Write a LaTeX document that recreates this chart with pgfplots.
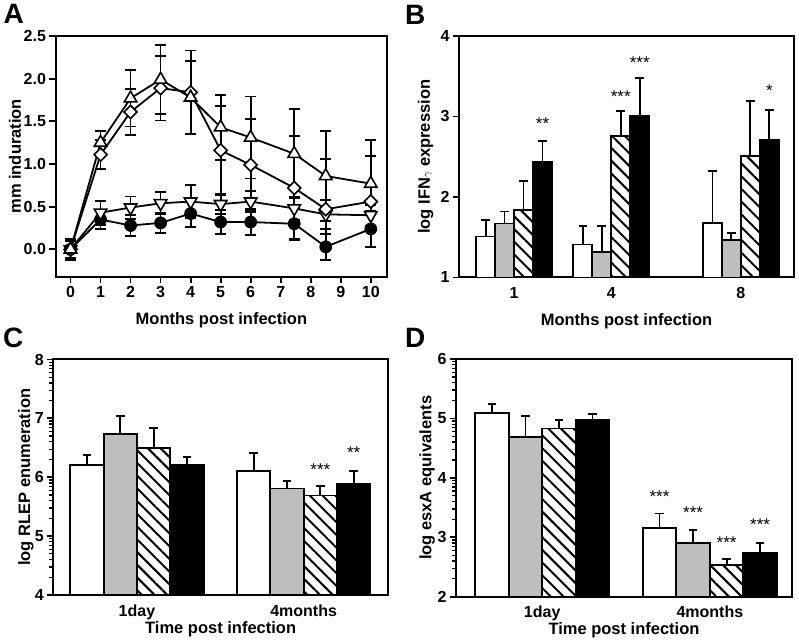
\documentclass[border=0pt]{standalone}
\usepackage{fontspec}
\setmainfont{Liberation Sans}
\usepackage{pgfplots}
\pgfplotsset{compat=1.18}
\usetikzlibrary{patterns.meta}
\definecolor{barGrey}{RGB}{190,190,190}

\tikzset{sigstar/.style={font=\fontsize{17}{18}\selectfont, anchor=north, inner sep=0pt},
  hatch/.style={pattern={Lines[angle=-45,distance=9pt,line width=2pt]}, pattern color=black}}

\pgfplotsset{
  panel/.style={
    scale only axis, anchor=south west,
    axis line style={line width=2pt},
    tick style={black, line width=1.8pt},
    tick align=outside, major tick length=6pt, minor tick length=4pt,
    minor tick style={line width=1.3pt},
    xtick pos=bottom, ytick pos=left,
    tick label style={font=\fontsize{16}{19}\selectfont\bfseries},
    label style={font=\fontsize{16.5}{20}\selectfont\bfseries},
    /pgf/number format/assume math mode=true,
  },
  lineser/.style={black, line width=1.8pt, mark size=#1,
    error bars/y dir=both, error bars/y explicit,
    error bars/error bar style={line width=1.8pt, solid},
    error bars/error mark options={rotate=90, mark size=5.5pt, line width=1.8pt}},
  hb/.style={ybar, bar width=#1, bar shift=0pt, draw=black, line width=1.8pt,
    error bars/y dir=plus, error bars/y explicit,
    error bars/error bar style={line width=1.8pt},
    error bars/error mark options={rotate=90, mark size=4.3pt, line width=1.8pt}},
}

\begin{document}
\begin{tikzpicture}[x=1pt,y=1pt]
\useasboundingbox (0,0) rectangle (799,644);

% ---------------- Panel A ----------------
\begin{axis}[panel, at={(55.5pt,367.3pt)}, width=331.8pt, height=240.7pt,
  xmin=-0.5, xmax=10.55, ymin=-0.32, ymax=2.5,
  xtick={0,1,...,10}, ytick={0,0.5,1.0,1.5,2.0,2.5},
  yticklabel style={/pgf/number format/.cd, fixed, fixed zerofill, precision=1},
  xlabel={Months post infection}, ylabel={mm induration},
  xlabel style={at={(axis description cs:0.5,-0.2)}, anchor=base},
  ylabel style={at={(axis description cs:-0.122,0.5)}, anchor=center},
]
\addplot[lineser=5.8pt, mark=*, mark options={fill=black, solid, line width=1.2pt}] coordinates {
 (0,0) +- (0,0.12) (1,0.35) +- (0,0.11) (2,0.28) +- (0,0.12) (3,0.31) +- (0,0.12)
 (4,0.42) +- (0,0.16) (5,0.32) +- (0,0.14) (6,0.32) +- (0,0.15) (7.45,0.30) +- (0,0.18)
 (8.5,0.03) +- (0,0.15) (10,0.24) +- (0,0.21)};
\addplot[lineser=7.2pt, mark=triangle*, mark options={fill=white, solid, rotate=180, line width=1.6pt}] coordinates {
 (0,0) +- (0,0.1) (1,0.43) +- (0,0.14) (2,0.49) +- (0,0.13) (3,0.54) +- (0,0.13)
 (4,0.56) +- (0,0.19) (5,0.53) +- (0,0.12) (6,0.56) +- (0,0.12) (7.45,0.48) +- (0,0.14)
 (8.5,0.41) +- (0,0.17) (10,0.40) +- (0,0.12)};
\addplot[lineser=4.6pt, mark=square*, mark options={fill=white, solid, rotate=45, line width=1.6pt}] coordinates {
 (0,0) +- (0,0.1) (1,1.11) +- (0,0.17) (2,1.61) +- (0,0.27) (3,1.89) +- (0,0.38)
 (4,1.84) +- (0,0.49) (5,1.16) +- (0,0.52) (6,0.99) +- (0,0.54) (7.45,0.72) +- (0,0.61)
 (8.5,0.47) +- (0,0.59) (10,0.56) +- (0,0.53)};
\addplot[lineser=7.2pt, mark=triangle*, mark options={fill=white, solid, line width=1.6pt}] coordinates {
 (0,0) +- (0,0.1) (1,1.25) +- (0,0.14) (2,1.77) +- (0,0.33) (3,1.99) +- (0,0.40)
 (4,1.78) +- (0,0.43) (5,1.43) +- (0,0.38) (6,1.31) +- (0,0.48) (7.45,1.12) +- (0,0.52)
 (8.5,0.86) +- (0,0.53) (10,0.77) +- (0,0.51)};
\end{axis}

% ---------------- Panel B ----------------
\begin{axis}[panel, at={(459pt,366.5pt)}, width=335pt, height=241.5pt,
  xmin=-0.70, xmax=9.64, ymin=1, ymax=4,
  xtick={1,4,8}, ytick={1,2,3,4}, xtick style={draw=none},
  xlabel={Months post infection}, ylabel={log IFN{\fontsize{11}{12}\selectfont$\gamma$} expression},
  xlabel style={at={(axis description cs:0.5,-0.198)}, anchor=base},
  ylabel style={at={(axis description cs:-0.0997,0.5)}, anchor=center},
]
% bars at month - 1.5w, -0.5w, +0.5w, +1.5w (w = 0.586)
\addplot[hb=0.586, fill=white] coordinates {
 (0.121,1.51) +- (0,0.20) (3.121,1.41) +- (0,0.23) (7.121,1.68) +- (0,0.64)};
\addplot[hb=0.586, fill=barGrey] coordinates {
 (0.707,1.67) +- (0,0.15) (3.707,1.32) +- (0,0.32) (7.707,1.47) +- (0,0.08)};
\addplot[hb=0.586, hatch] coordinates {
 (1.293,1.84) +- (0,0.36) (4.293,2.76) +- (0,0.31) (8.293,2.51) +- (0,0.68)};
\addplot[hb=0.586, fill=black] coordinates {
 (1.879,2.44) +- (0,0.26) (4.879,3.01) +- (0,0.47) (8.879,2.71) +- (0,0.37)};
\node[sigstar] at (axis cs:1.879,2.98) {**};
\node[sigstar] at (axis cs:4.293,3.32) {***};
\node[sigstar] at (axis cs:4.879,3.74) {***};
\node[sigstar] at (axis cs:8.879,3.39) {*};
\end{axis}

% ---------------- Panel C ----------------
\begin{axis}[panel, at={(53.3pt,49pt)}, width=334.7pt, height=235.5pt,
  xmin=-0.502, xmax=1.506, ymin=4, ymax=8,
  xtick={0,1}, xticklabels={1day,4months}, xtick style={draw=none},
  ytick={4,5,6,7,8},
  minor ytick={4.30103,4.47712,4.60206,4.69897,4.77815,4.84510,4.90309,4.95424,
               5.30103,5.47712,5.60206,5.69897,5.77815,5.84510,5.90309,5.95424,
               6.30103,6.47712,6.60206,6.69897,6.77815,6.84510,6.90309,6.95424,
               7.30103,7.47712,7.60206,7.69897,7.77815,7.84510,7.90309,7.95424},
  xlabel={Time post infection}, ylabel={log RLEP enumeration},
  xlabel style={at={(axis description cs:0.5,-0.165)}, anchor=base},
  ylabel style={at={(axis description cs:-0.082,0.5)}, anchor=center},
]
\addplot[hb=0.2, fill=white] coordinates {
 (-0.3,6.21) +- (0,0.17) (0.7,6.11) +- (0,0.30)};
\addplot[hb=0.2, fill=barGrey] coordinates {
 (-0.1,6.73) +- (0,0.31) (0.9,5.81) +- (0,0.12)};
\addplot[hb=0.2, hatch] coordinates {
 (0.1,6.49) +- (0,0.34) (1.1,5.69) +- (0,0.16)};
\addplot[hb=0.2, fill=black] coordinates {
 (0.3,6.21) +- (0,0.13) (1.3,5.88) +- (0,0.23)};
\node[sigstar] at (axis cs:1.1,6.24) {***};
\node[sigstar] at (axis cs:1.3,6.52) {**};
\end{axis}

% ---------------- Panel D ----------------
\begin{axis}[panel, at={(456pt,47.3pt)}, width=336pt, height=237.7pt,
  xmin=-0.514, xmax=1.49, ymin=2, ymax=6,
  xtick={0,1}, xticklabels={1day,4months}, xtick style={draw=none},
  ytick={2,3,4,5,6},
  minor ytick={2.30103,2.47712,2.60206,2.69897,2.77815,2.84510,2.90309,2.95424,
               3.30103,3.47712,3.60206,3.69897,3.77815,3.84510,3.90309,3.95424,
               4.30103,4.47712,4.60206,4.69897,4.77815,4.84510,4.90309,4.95424,
               5.30103,5.47712,5.60206,5.69897,5.77815,5.84510,5.90309,5.95424},
  xlabel={Time post infection}, ylabel={log esxA equivalents},
  xlabel style={at={(axis description cs:0.5,-0.159)}, anchor=base},
  ylabel style={at={(axis description cs:-0.086,0.5)}, anchor=center},
]
\addplot[hb=0.2, fill=white] coordinates {
 (-0.3,5.09) +- (0,0.15) (0.7,3.16) +- (0,0.24)};
\addplot[hb=0.2, fill=barGrey] coordinates {
 (-0.1,4.69) +- (0,0.35) (0.9,2.90) +- (0,0.22)};
\addplot[hb=0.2, hatch] coordinates {
 (0.1,4.83) +- (0,0.15) (1.1,2.54) +- (0,0.09)};
\addplot[hb=0.2, fill=black] coordinates {
 (0.3,4.98) +- (0,0.09) (1.3,2.74) +- (0,0.17)};
\node[sigstar] at (axis cs:0.7,3.78) {***};
\node[sigstar] at (axis cs:0.9,3.51) {***};
\node[sigstar] at (axis cs:1.1,3.01) {***};
\node[sigstar] at (axis cs:1.3,3.31) {***};
\end{axis}

% panel letters
\node[anchor=base west, inner sep=0pt, font=\fontsize{28}{30}\selectfont\bfseries] at (3.3,620.7) {A};
\node[anchor=base west, inner sep=0pt, font=\fontsize{28}{30}\selectfont\bfseries] at (405,619) {B};
\node[anchor=base west, inner sep=0pt, font=\fontsize{28}{30}\selectfont\bfseries] at (3,296) {C};
\node[anchor=base west, inner sep=0pt, font=\fontsize{28}{30}\selectfont\bfseries] at (405,296) {D};
\end{tikzpicture}
\end{document}
